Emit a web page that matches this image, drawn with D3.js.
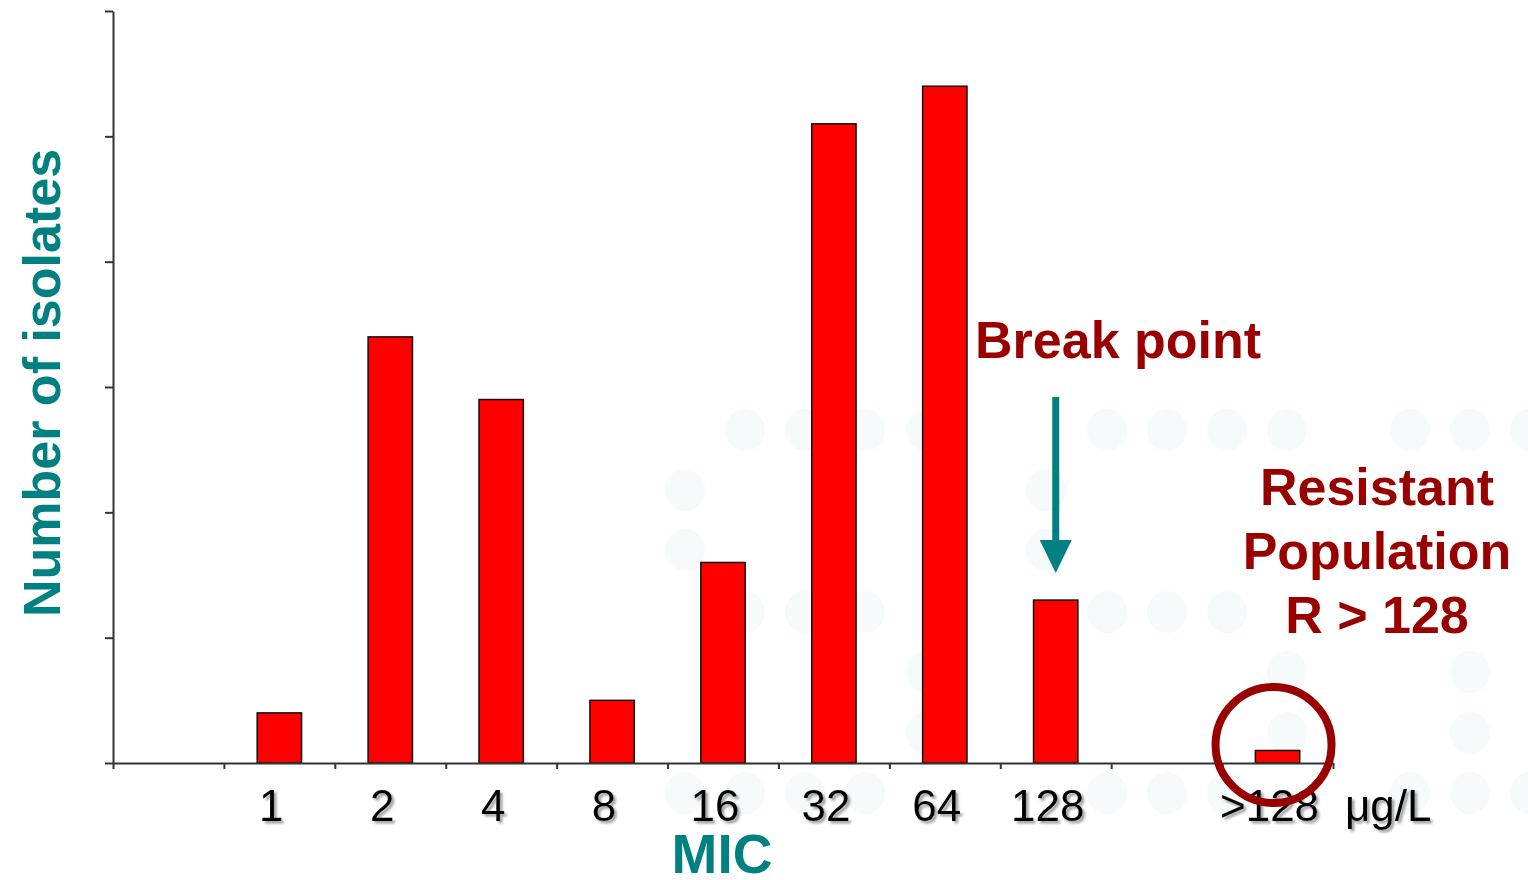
<!DOCTYPE html>
<html>
<head>
<meta charset="utf-8">
<script src="https://cdn.jsdelivr.net/npm/d3@7"></script>
<style>
  html, body { margin: 0; padding: 0; background: #fff; }
  svg { display: block; }
  text { font-family: "Liberation Sans", Arial, sans-serif; }
</style>
</head>
<body>
<svg id="chart" width="1528" height="880"></svg>
<script>
// ---- data ----
const categories = ["", "1", "2", "4", "8", "16", "32", "64", "128", "", ">128"];
const counts     = [null, 4, 34, 29, 5, 16, 51, 54, 13, null, 1];
const yTicks     = [0, 10, 20, 30, 40, 50, 60];
const unitLabel  = "μg/L";
const yTitle     = "Number of isolates";
const xTitle     = "MIC";
const breakLabel = "Break point";
const resistLines = ["Resistant", "Population", "R > 128"];
const breakIndex = 8;   // "128"
const resistIndex = 10; // ">128"

(function () {
// ---- layout ----
const svg = d3.select("#chart");
const mLeft = 113, mRight = 1333, mTop = 11, mBottom = 763;
const teal = "#008080", darkRed = "#990000";

// faint decorative background dots (slide template)
const dotRows = [
  [430, [745, 805, 865, 926, 1107, 1167, 1227, 1287, 1410, 1470, 1530]],
  [490, [685, 1046]],
  [550, [685, 1046]],
  [612, [745, 805, 865, 1107, 1167, 1227]],
  [672, [926, 1287, 1470]],
  [733, [926, 1287, 1470]],
  [793, [685, 745, 805, 865, 1107, 1167, 1227, 1410, 1470, 1530]]
];
const dotG = svg.append("g");
dotRows.forEach(([cy, xs]) => {
  dotG.selectAll(null).data(xs).join("ellipse")
    .attr("cx", d => d).attr("cy", cy).attr("rx", 20).attr("ry", 21)
    .attr("fill", "#f6fafa");
});

const defs = svg.append("defs");
const f = defs.append("filter").attr("id", "shadow").attr("x", "-20%").attr("y", "-20%").attr("width", "150%").attr("height", "150%");
f.append("feDropShadow").attr("dx", 2.5).attr("dy", 2.5).attr("stdDeviation", 1.2).attr("flood-color", "#777").attr("flood-opacity", 0.7);

const idx = d3.range(categories.length);
const x = d3.scaleBand().domain(idx).range([mLeft, mRight]).paddingInner(0.6).paddingOuter(0.3);
const xEdge = d3.scaleLinear().domain([0, categories.length]).range([mLeft, mRight]);
const y = d3.scaleLinear().domain([0, 60]).range([mBottom, mTop]);

// bars
svg.append("g").selectAll("rect")
  .data(idx.filter(i => counts[i] != null))
  .join("rect")
  .attr("x", i => x(i))
  .attr("width", x.bandwidth())
  .attr("y", i => y(counts[i]))
  .attr("height", i => y(0) - y(counts[i]))
  .attr("fill", "#ff0000")
  .attr("stroke", "#111")
  .attr("stroke-width", 1.5);

// axes
const yAxis = svg.append("g").attr("transform", `translate(${mLeft},0)`)
  .call(d3.axisLeft(y).tickValues(yTicks).tickSize(8).tickSizeOuter(0).tickFormat(""));
const xAxis = svg.append("g").attr("transform", `translate(0,${mBottom})`)
  .call(d3.axisBottom(xEdge).tickValues(d3.range(categories.length + 1)).tickSize(6).tickSizeOuter(0).tickFormat(""));
[yAxis, xAxis].forEach(g => {
  g.selectAll("path, line").attr("stroke", "#333").attr("stroke-width", 2);
});

// category labels
svg.append("g").selectAll("text")
  .data(idx.filter(i => categories[i] !== ""))
  .join("text")
  .attr("x", i => x(i) + x.bandwidth() / 2 - 8)
  .attr("y", 821)
  .attr("text-anchor", "middle")
  .attr("font-size", 44)
  .attr("fill", "#000")
  .attr("filter", "url(#shadow)")
  .text(i => categories[i]);

svg.append("text")
  .attr("x", 1345).attr("y", 821)
  .attr("font-size", 44).attr("fill", "#000")
  .attr("filter", "url(#shadow)")
  .text(unitLabel);

// axis titles
svg.append("text")
  .attr("transform", `translate(60,${383}) rotate(-90)`)
  .attr("text-anchor", "middle")
  .attr("font-size", 52).attr("font-weight", "bold").attr("fill", teal)
  .text(yTitle);

svg.append("text")
  .attr("x", 722).attr("y", 873)
  .attr("text-anchor", "middle")
  .attr("font-size", 55).attr("font-weight", "bold").attr("fill", teal)
  .text(xTitle);

// break point annotation
const bx = x(breakIndex) + x.bandwidth() / 2;
svg.append("text")
  .attr("x", 975).attr("y", 358)
  .attr("font-size", 52).attr("font-weight", "bold").attr("fill", darkRed)
  .text(breakLabel);
svg.append("line")
  .attr("x1", bx).attr("x2", bx).attr("y1", 397).attr("y2", 545)
  .attr("stroke", teal).attr("stroke-width", 7);
svg.append("path")
  .attr("d", `M${bx - 16},540 L${bx + 16},540 L${bx},573 Z`)
  .attr("fill", teal);

// resistant annotation
svg.append("text")
  .attr("text-anchor", "middle")
  .attr("font-size", 52).attr("font-weight", "bold").attr("fill", darkRed)
  .selectAll("tspan")
  .data(resistLines)
  .join("tspan")
  .attr("x", 1377)
  .attr("y", (d, i) => 505 + i * 64)
  .text(d => d);

const rx = x(resistIndex) + x.bandwidth() / 2 - 4;
svg.append("circle")
  .attr("cx", rx).attr("cy", 745).attr("r", 58)
  .attr("fill", "none").attr("stroke", darkRed).attr("stroke-width", 8);
})();
</script>
</body>
</html>
